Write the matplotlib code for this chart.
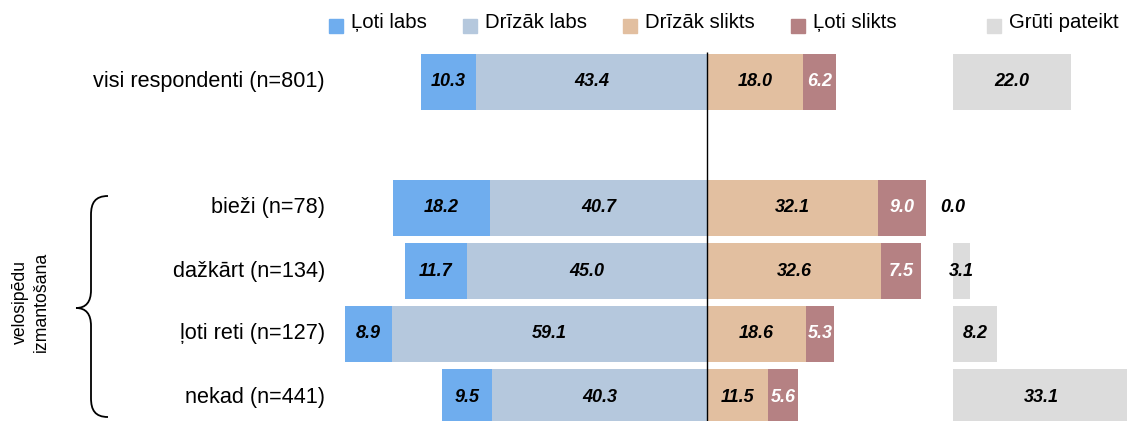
import numpy as np
import matplotlib.pyplot as plt
from matplotlib.path import Path
from matplotlib.patches import PathPatch, Rectangle

plt.rcParams['font.family'] = ['Liberation Sans', 'DejaVu Sans']

# data
groups = ["visi respondenti (n=801)", "bieži (n=78)", "dažkārt (n=134)",
          "ļoti reti (n=127)", "nekad (n=441)"]
loti_labs = [10.3, 18.2, 11.7, 8.9, 9.5]
drizak_labs = [43.4, 40.7, 45.0, 59.1, 40.3]
drizak_slikts = [18.0, 32.1, 32.6, 18.6, 11.5]
loti_slikts = [6.2, 9.0, 7.5, 5.3, 5.6]
gruti = [22.0, 0.0, 3.1, 8.2, 33.1]
legend_labels = ["Ļoti labs", "Drīzāk labs", "Drīzāk slikts", "Ļoti slikts", "Grūti pateikt"]
colors = ["#6FADEE", "#B5C8DD", "#E2BFA0", "#B58183", "#DCDCDC"]

ypos = np.array([0, 2, 3, 4, 5])
gap = 46.2      # where the "Grūti pateikt" column starts
scale = 5.33    # pixels per percent
row = 63        # pixels per row

fig = plt.figure(figsize=(11.27, 4.21), dpi=100)
ax = fig.add_axes([0, 0, 1, 1])
ax.set_xlim(-707 / scale, 420 / scale)
ax.set_ylim(339 / row, -82 / row)
ax.axis('off')

ll = np.array(loti_labs)
dl = np.array(drizak_labs)
ds = np.array(drizak_slikts)
ls = np.array(loti_slikts)
gr = np.array(gruti)
h = 0.88

ax.barh(ypos, -dl, height=h, color=colors[1])
ax.barh(ypos, -ll, left=-dl, height=h, color=colors[0])
ax.barh(ypos, ds, height=h, color=colors[2])
ax.barh(ypos, ls, left=ds, height=h, color=colors[3])
ax.barh(ypos, gr, left=gap, height=h, color=colors[4])

ax.vlines(0, -0.48, 6, color="black", lw=1)

lab = dict(fontsize=13, fontweight="bold", fontstyle="italic", ha="center", va="center")
for y, a, b, c, d, g in zip(ypos, ll, dl, ds, ls, gr):
    ax.text(-b - a / 2, y, f"{a:.1f}", color="black", **lab)
    ax.text(-b / 2, y, f"{b:.1f}", color="black", **lab)
    ax.text(c / 2, y, f"{c:.1f}", color="black", **lab)
    ax.text(c + d / 2, y, f"{d:.1f}", color="white", **lab)
    ax.text(gap + g / 2, y, f"{g:.1f}", color="black", **lab)

for y, name in zip(ypos, groups):
    ax.text(-382 / scale, y, name, ha="right", va="center", fontsize=15.6)

# overlay in pixel coordinates for legend, brace and group title
ov = fig.add_axes([0, 0, 1, 1])
ov.set_xlim(0, 1127)
ov.set_ylim(421, 0)
ov.axis('off')
ov.patch.set_alpha(0)

leg_x = [329, 463, 623, 791, 987]
for x, name, c in zip(leg_x, legend_labels, colors):
    ov.add_patch(Rectangle((x, 19), 14, 14, color=c))
    ov.text(x + 22, 23, name, ha="left", va="center", fontsize=14.7)

verts = [(108, 196), (95, 196), (91, 203), (91, 215),
         (91, 290),
         (91, 302), (86, 308), (76, 308),
         (86, 308), (91, 314), (91, 326),
         (91, 398),
         (91, 410), (95, 417), (108, 417)]
codes = [Path.MOVETO, Path.CURVE4, Path.CURVE4, Path.CURVE4,
         Path.LINETO,
         Path.CURVE4, Path.CURVE4, Path.CURVE4,
         Path.CURVE4, Path.CURVE4, Path.CURVE4,
         Path.LINETO,
         Path.CURVE4, Path.CURVE4, Path.CURVE4]
ov.add_patch(PathPatch(Path(verts, codes), fill=False, lw=1.3, color="black"))
ov.text(31, 302, "velosipēdu\nizmantošana", rotation=90, ha="center", va="center",
        fontsize=12.7, linespacing=1.3)

fig.savefig("out.png", dpi=100)
